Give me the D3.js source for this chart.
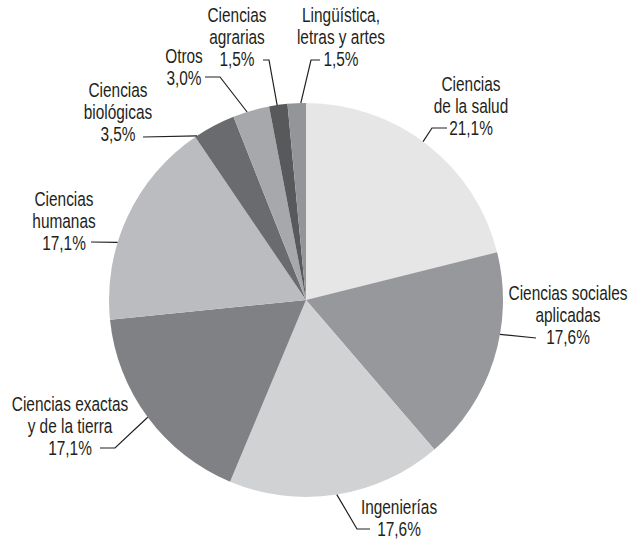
<!DOCTYPE html>
<html>
<head>
<meta charset="utf-8">
<script src="https://cdn.jsdelivr.net/npm/d3@7"></script>
<style>
  body { margin: 0; background: #fff; }
  text { font-family: "Liberation Sans", Arial, sans-serif; font-size: 19.5px; fill: #231f20; }
</style>
</head>
<body>
<div id="chart"></div>
<script>
// areas, in clockwise order starting at 12 o'clock
const categories = [
  "Ciencias de la salud",
  "Ciencias sociales aplicadas",
  "Ingenierías",
  "Ciencias exactas y de la tierra",
  "Ciencias humanas",
  "Ciencias biológicas",
  "Otros",
  "Ciencias agrarias",
  "Lingüística, letras y artes"
];
const values = [21.1, 17.6, 17.6, 17.1, 17.1, 3.5, 3.0, 1.5, 1.5];

// how each name is broken on the label
const labelLines = [
  ["Ciencias", "de la salud"],
  ["Ciencias sociales", "aplicadas"],
  ["Ingenierías"],
  ["Ciencias exactas", "y de la tierra"],
  ["Ciencias", "humanas"],
  ["Ciencias", "biológicas"],
  ["Otros"],
  ["Ciencias", "agrarias"],
  ["Lingüística,", "letras y artes"]
];

// greys
const palette = ["#e6e6e7", "#97989b", "#d1d2d4", "#808184", "#bbbcbf",
                 "#6a6b6e", "#a7a8ab", "#58595b", "#939598"];

const width = 629, height = 540;
const cx = 306, cy = 300, radius = 197;
const narrow = 0.79;   // no condensed face installed, so squeeze Liberation Sans

// label placement: text centre x, first baseline, where the leader leaves the slice (0..1 across it),
// and the bend / end points of the leader
const labelPos = [
  { x: 471, y: 91,  t: 0.48, pts: [[432, 128], [447, 128]] },
  { x: 568, y: 300, t: 0.38, pts: [[536, 338]] },
  { x: 399, y: 514, t: 0.50, pts: [[357, 529], [370, 529]] },
  { x: 70,  y: 411, t: 0.50, pts: [[115, 448], [100, 448]] },
  { x: 64,  y: 206, t: 0.37, pts: [[91, 242]] },
  { x: 118, y: 97,  t: 0.05, pts: [[143, 137]] },
  { x: 184, y: 63,  t: 0.39, pts: [[220, 77], [205, 77]] },
  { x: 237, y: 22,  t: 0.44, pts: [[269, 60], [263, 60]] },
  { x: 341, y: 22,  t: 0.72, pts: [[311, 60], [320, 60]] }
];

const lineHeight = 22;

const es = d3.formatLocale({ decimal: ",", thousands: ".", grouping: [3], currency: ["", " €"] });
const fmt = v => es.format(".1f")(v) + "%";

const data = categories.map((c, i) => ({ name: c, value: values[i], lines: labelLines[i], pos: labelPos[i], i: i }));

const svg = d3.select("#chart")
  .append("svg")
  .attr("width", width)
  .attr("height", height);

const g = svg.append("g")
  .attr("transform", "translate(" + cx + "," + cy + ")");

const pie = d3.pie()
  .sort(null)
  .value(d => d.value);

const arc = d3.arc()
  .innerRadius(0)
  .outerRadius(radius);

const arcs = pie(data);

// slices
g.selectAll("path.slice")
  .data(arcs)
  .enter()
  .append("path")
  .attr("class", "slice")
  .attr("d", arc)
  .attr("fill", d => palette[d.data.i])
  .attr("stroke", "none");

// leader lines
svg.selectAll("path.leader")
  .data(arcs)
  .enter()
  .append("path")
  .attr("class", "leader")
  .attr("d", function(d) {
    const p = d.data.pos;
    const a = d.startAngle + p.t * (d.endAngle - d.startAngle);
    const start = [cx + radius * Math.sin(a), cy - radius * Math.cos(a)];
    return d3.line()([start].concat(p.pts));
  })
  .attr("fill", "none")
  .attr("stroke", "#231f20")
  .attr("stroke-width", 1.2);

// labels
const labels = svg.selectAll("g.lbl")
  .data(arcs)
  .enter()
  .append("g")
  .attr("class", "lbl")
  .attr("transform", d => "translate(" + d.data.pos.x + "," + d.data.pos.y + ") scale(" + narrow + ",1)");

labels.each(function(d) {
  const t = d3.select(this).append("text").attr("text-anchor", "middle");
  const lines = d.data.lines.concat([fmt(d.data.value)]);
  lines.forEach((l, k) => {
    t.append("tspan")
      .attr("x", 0)
      .attr("y", k * lineHeight)
      .text(l);
  });
});
</script>
</body>
</html>
